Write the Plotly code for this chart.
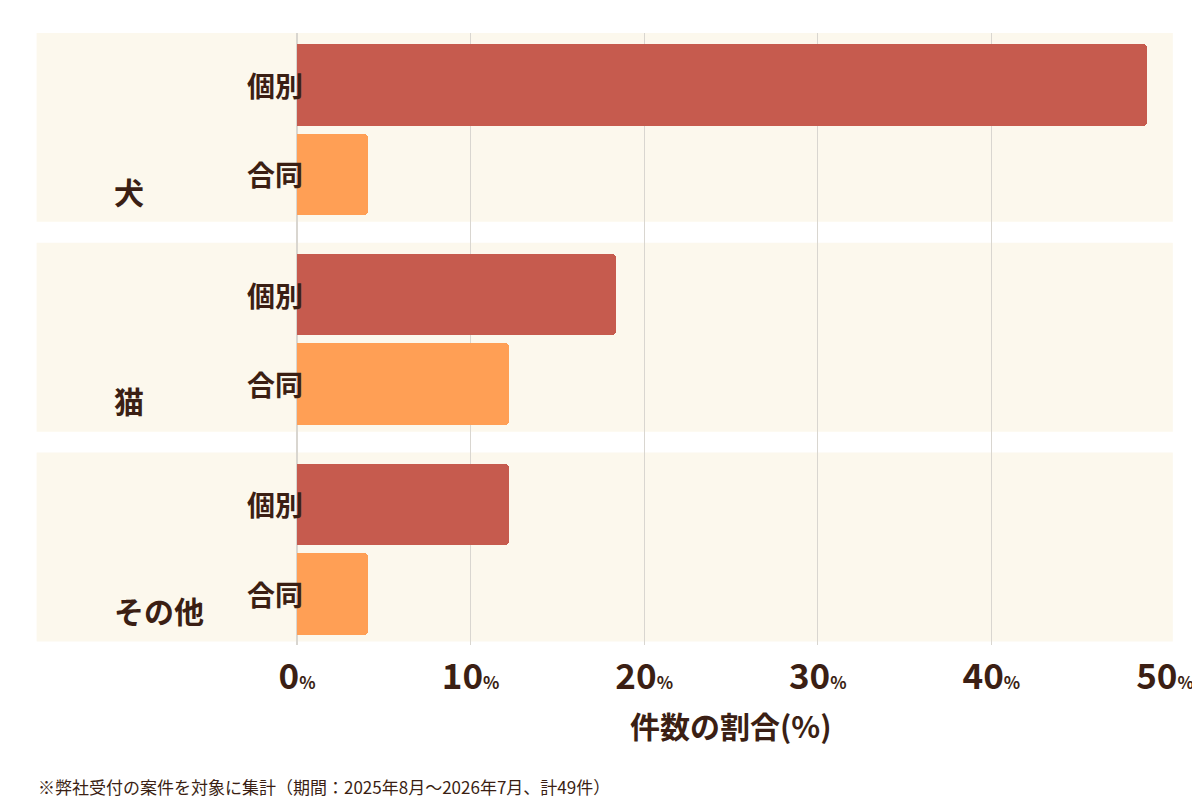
import plotly.graph_objects as go

animals = ["犬", "猫", "その他"]
kinds = ["個別", "合同"]
# 件数の割合(%) per animal: [個別, 合同]  (total 49 cases)
share = {
    "犬": [48.98, 4.08],
    "猫": [18.37, 12.24],
    "その他": [12.24, 4.08],
}
x_ticks = [0, 10, 20, 30, 40, 50]
x_title = "件数の割合(%)"
footnote = "※弊社受付の案件を対象に集計（期間：2025年8月～2026年7月、計49件）"

colors = {"個別": "#C65B4E", "合同": "#FF9F55"}
ink = "#3B1F14"
font = "Noto Sans CJK JP"
gap = 2.344

fig = go.Figure()
for k_i, kind in enumerate(kinds):
    ys = [g * gap + k_i for g in range(len(animals))]
    xs = [share[a][k_i] for a in animals]
    fig.add_trace(go.Bar(
        x=xs, y=ys, orientation="h", width=0.91,
        marker=dict(color=colors[kind], cornerradius=4, line_width=0),
        name=kind, showlegend=False, hoverinfo="x",
    ))

shapes = []
annotations = []
for g, animal in enumerate(animals):
    base = g * gap
    shapes.append(dict(type="rect", xref="paper", yref="y", x0=-0.30, x1=1.009,
                       y0=base - 0.58, y1=base + 1.53, fillcolor="#FCF8ED",
                       line_width=0, layer="below"))
    annotations.append(dict(text=f"<b>{animal}</b>", xref="paper", yref="y",
                            x=-0.213, y=base + 1.18, showarrow=False,
                            font=dict(size=30, color=ink, family=font)))
    for k_i, kind in enumerate(kinds):
        annotations.append(dict(text=f"<b>{kind}</b>", xref="paper", yref="y",
                                x=-0.06, y=base + k_i, showarrow=False,
                                font=dict(size=28, color=ink, family=font)))

annotations.append(dict(text=f"<b>{x_title}</b>", xref="paper", yref="paper",
                        x=0.5, y=-0.17, showarrow=False,
                        font=dict(size=30, color=ink, family=font)))
annotations.append(dict(text=footnote, xref="paper", yref="paper",
                        x=-0.301, xanchor="left", y=-0.255, showarrow=False,
                        font=dict(size=17, color=ink, family=font)))

fig.update_layout(
    width=1200, height=800,
    margin=dict(l=289, r=43, t=25, b=163),
    paper_bgcolor="white", plot_bgcolor="white",
    bargap=0,
    shapes=shapes, annotations=annotations,
    xaxis=dict(range=[0, 50], tickvals=x_ticks, automargin=False,
               ticktext=[f"<b>{t}</b><span style='font-size:17px'><b>%</b></span>" for t in x_ticks],
               tickfont=dict(size=35, color=ink, family=font),
               showgrid=True, gridcolor="#D9D6D0", gridwidth=1,
               zeroline=True, zerolinecolor="#D9D6D0", showline=False,
               ticks="", ticklabelstandoff=8),
    yaxis=dict(range=[2 * gap + 1.57, -0.58], showticklabels=False, automargin=False,
               showgrid=False, zeroline=False),
)

fig.write_html("out.html")
